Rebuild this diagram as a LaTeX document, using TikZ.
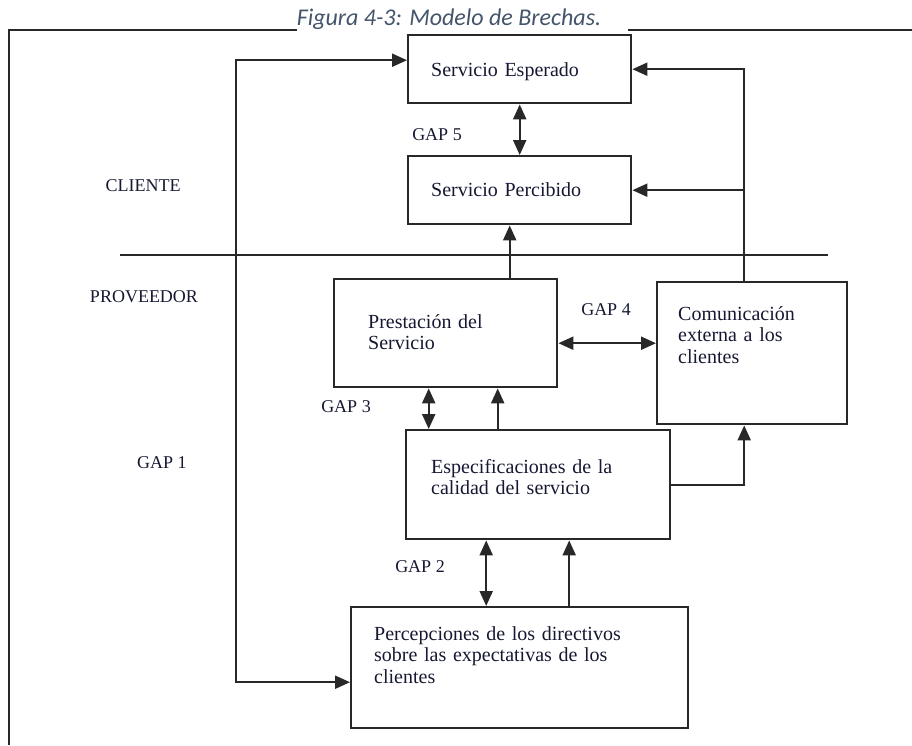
\documentclass[tikz,border=0pt]{standalone}
\usepackage{fontspec}
\setmainfont{Liberation Serif}
\newfontfamily\capfont{Carlito}
\usetikzlibrary{arrows.meta}
\definecolor{textocaja}{RGB}{22,24,50}
\definecolor{linea}{RGB}{40,40,40}
\definecolor{titulo}{RGB}{68,84,106}
\begin{document}
\begin{tikzpicture}[x=1pt,y=-1pt,
    caja/.style={draw=linea, line width=2.4pt, anchor=north west, inner ysep=0pt,
      align=left, text=textocaja, font=\fontsize{20}{21.5}\selectfont},
    etiqueta/.style={text=textocaja, inner sep=0pt, font=\fontsize{18}{20}\selectfont},
    flecha/.style={draw=linea, line width=2.2pt, -{Triangle[length=15pt,width=13pt]}},
    doble/.style={draw=linea, line width=2.2pt,
      {Triangle[length=15pt,width=13pt]}-{Triangle[length=15pt,width=13pt]}}]
  \useasboundingbox (0,0) rectangle (912,745);
  \node[text=titulo, anchor=base, inner sep=0pt,
    font=\capfont\itshape\fontsize{24}{26}\selectfont] (titulo) at (449,25)
    {Figura 4-3: Modelo de Brechas.};
  \draw[linea, line width=1.8pt] (297,30) -- (9,30) -- (9,745);
  \draw[linea, line width=1.8pt] (628,30) -- (912,30);
  \draw[linea, line width=2.2pt] (120,255) -- (828,255);

  \node[caja, inner xsep=23pt, text width=177pt, text height=41pt, text depth=27pt]
    (esperado) at (407,34) {Servicio Esperado};
  \node[caja, inner xsep=23pt, text width=177pt, text height=40pt, text depth=28pt]
    (percibido) at (407,155) {Servicio Percibido};
  \node[caja, inner xsep=34pt, text width=155pt, text height=49pt, text depth=59pt]
    (prestacion) at (333,278) {Prestación del\\Servicio};
  \node[caja, inner xsep=21pt, text width=148pt, text height=38pt, text depth=104pt]
    (comunicacion) at (656,281) {Comunicación\\externa a los\\clientes};
  \node[caja, inner xsep=25pt, text width=214pt, text height=43pt, text depth=66pt]
    (especificaciones) at (405,429) {Especificaciones de la\\calidad del servicio};
  \node[caja, inner xsep=23pt, text width=291pt, text height=33pt, text depth=88pt]
    (percepciones) at (350,606) {Percepciones de los directivos\\sobre las expectativas de los\\clientes};

  \node[etiqueta] (cliente) at (143,186) {CLIENTE};
  \node[etiqueta] (proveedor) at (144,297) {PROVEEDOR};
  \foreach \n/\px/\py in {5/437/135, 4/606/310, 3/346/407, 1/162/463, 2/420/567} {
    \node[etiqueta] (gap\n) at (\px,\py) {GAP \n};
  }

  \coordinate (bucle) at (236,400);
  \draw[doble] ([yshift=9pt]esperado.west) -| (bucle) |- ([yshift=-14.5pt]percepciones.west);
  \draw[doble] (esperado.south) -- (percibido.north);
  \draw[flecha] ([xshift=-8pt]comunicacion.north) |- (esperado.east);
  \draw[flecha] ([xshift=-8pt]comunicacion.north |- percibido.east) -- (percibido.east);
  \draw[flecha] ([xshift=-10pt]percibido.south |- prestacion.north) -- ([xshift=-10pt]percibido.south);
  \draw[doble] ([yshift=-10pt]prestacion.east) -- ([yshift=10pt]comunicacion.west);
  \draw[doble] ([xshift=-17pt]prestacion.south) -- ([xshift=-17pt]prestacion.south |- especificaciones.north);
  \draw[flecha] ([xshift=52pt]prestacion.south |- especificaciones.north) -- ([xshift=52pt]prestacion.south);
  \draw[flecha] (especificaciones.east) -| ([xshift=-8pt]comunicacion.south);
  \draw[doble] ([xshift=-52pt]especificaciones.south) -- ([xshift=-52pt]especificaciones.south |- percepciones.north);
  \draw[flecha] ([xshift=31pt]especificaciones.south |- percepciones.north) -- ([xshift=31pt]especificaciones.south);
\end{tikzpicture}
\end{document}
